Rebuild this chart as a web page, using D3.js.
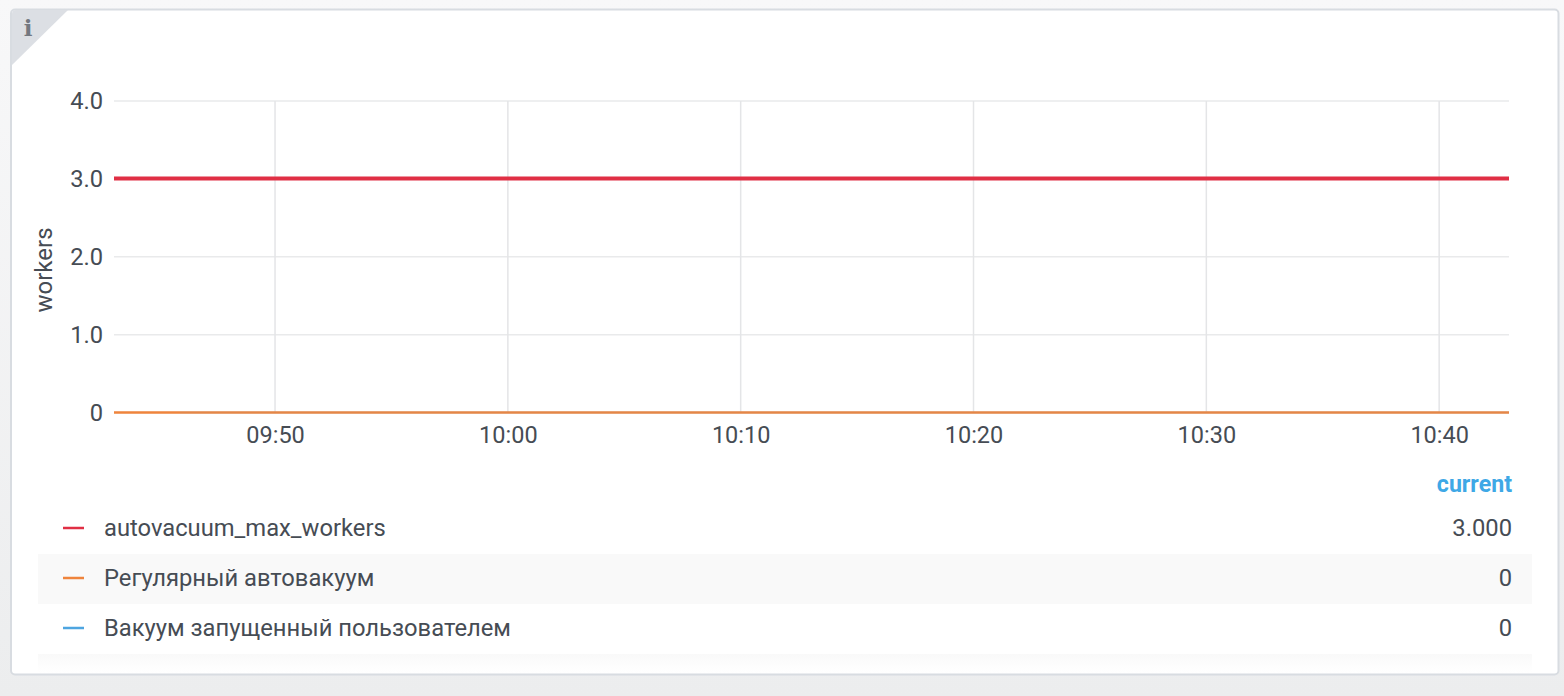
<!DOCTYPE html>
<html><head><meta charset="utf-8">
<script src="https://cdnjs.cloudflare.com/ajax/libs/d3/7.8.5/d3.min.js"></script>
<style>html,body{margin:0;padding:0;background:#f0f1f2;overflow:hidden}svg{display:block}text{font-family:Roboto,sans-serif}</style>
</head><body><svg id="c" width="1564" height="696"></svg>
<script>
const seriesNames=["autovacuum_max_workers","Регулярный автовакуум","Вакуум запущенный пользователем"];
const seriesColors=["#e02f44","#ef843c","#4ea5e0"];
const currentLabels=["3.000","0","0"];
const times=["09:43:05","10:43:00"];
const userTimes=["09:45:55","10:43:00"];
const maxWorkers=[3,3];
const regular=[0,0];
const userVacuum=[0,0];
const yTicks=[0,1,2,3,4];
const xTickTimes=["09:50:00","10:00:00","10:10:00","10:20:00","10:30:00","10:40:00"];
const yLabel="workers";
const valueHeader="current";

const parse=d3.timeParse("%H:%M:%S");
const svg=d3.select("#c");
const defs=svg.append("defs");
const g0=defs.append("linearGradient").attr("id","bg").attr("x1",0).attr("x2",0).attr("y1",0).attr("y2",1);
g0.append("stop").attr("offset","0").attr("stop-color","#f8f8f9");
g0.append("stop").attr("offset","1").attr("stop-color","#ecedee");
const g1=defs.append("linearGradient").attr("id","fade").attr("x1",0).attr("x2",0).attr("y1",0).attr("y2",1);
g1.append("stop").attr("offset","0").attr("stop-color","#f9f9f9");
g1.append("stop").attr("offset","0.6").attr("stop-color","#fdfdfd");
g1.append("stop").attr("offset","1").attr("stop-color","#ffffff");
svg.append("rect").attr("width",1564).attr("height",696).attr("fill","url(#bg)");
svg.append("rect").attr("x",11).attr("y",9.5).attr("width",1547.5).attr("height",665).attr("rx",4)
  .attr("fill","#fff").attr("stroke","#d8dce1").attr("stroke-width",2);
svg.append("path").attr("d","M12 65 L12 14 Q12 10 16 10 L68 10 Z").attr("fill","#dcdfe4");
svg.append("text").attr("x",28).attr("y",36).attr("text-anchor","middle").attr("font-size",23)
  .attr("font-weight",700).style("font-family","'DejaVu Serif',serif").attr("fill","#737880").text("i");

const x=d3.scaleTime().domain(times.map(parse)).range([114,1509]);
const y=d3.scaleLinear().domain([0,4]).range([412.5,101]);
const textCol="#464c54";
const grid=svg.append("g");
grid.selectAll(".h").data(yTicks).join("line").attr("x1",114).attr("x2",1509)
  .attr("y1",d=>y(d)).attr("y2",d=>y(d)).attr("stroke","#e9eaeb").attr("stroke-width",1.5);
grid.selectAll(".v").data(xTickTimes).join("line").attr("x1",d=>x(parse(d))).attr("x2",d=>x(parse(d)))
  .attr("y1",101).attr("y2",412.5).attr("stroke","#e4e5e7").attr("stroke-width",1.5);

const yAxis=d3.axisLeft(y).tickValues(yTicks).tickSize(0).tickPadding(11).tickFormat(d=>d===0?"0":d3.format(".1f")(d));
const ya=svg.append("g").attr("transform","translate(114,0)").call(yAxis);
ya.select(".domain").remove();
ya.selectAll("text").attr("font-size",23.7).attr("fill",textCol).style("font-family","Roboto,sans-serif");
const xAxis=d3.axisBottom(x).tickValues(xTickTimes.map(parse)).tickSize(0).tickPadding(14).tickFormat(d3.timeFormat("%H:%M"));
const xa=svg.append("g").attr("transform","translate(0,412.5)").call(xAxis);
xa.select(".domain").remove();
xa.selectAll("text").attr("font-size",23.5).attr("fill",textCol).style("font-family","Roboto,sans-serif");

svg.append("text").attr("transform","translate(52,270) rotate(-90)").attr("text-anchor","middle")
  .attr("font-size",24).attr("fill",textCol).text(yLabel);

const line=d3.line().x(d=>x(parse(d.t))).y(d=>y(d.v));
const pts=(ts,vs)=>ts.map((t,i)=>({t,v:vs[i]}));
svg.append("path").attr("d",line(pts(times,maxWorkers))).attr("fill","none").attr("stroke",seriesColors[0]).attr("stroke-width",4).attr("transform","translate(0,-0.5)");
svg.append("path").attr("d",line(pts(times,regular))).attr("fill","none").attr("stroke",seriesColors[1]).attr("stroke-width",2.6);
svg.append("path").attr("d",line(pts(userTimes,userVacuum))).attr("fill","none").attr("stroke",seriesColors[2]).attr("stroke-width",2.6).attr("stroke-opacity",0.07);

svg.append("text").attr("x",1512).attr("y",492).attr("text-anchor","end").attr("font-size",23.2)
  .attr("font-weight",700).attr("fill","#3ea8e6").text(valueHeader);
const rowY=[528,578,628];
svg.append("rect").attr("x",38).attr("y",554).attr("width",1494).attr("height",50).attr("fill","#f9f9f9");
svg.append("rect").attr("x",38).attr("y",654).attr("width",1494).attr("height",19).attr("fill","url(#fade)");
const rows=svg.append("g").selectAll("g").data(seriesNames).join("g").attr("transform",(d,i)=>`translate(0,${rowY[i]})`);
rows.append("line").attr("x1",63).attr("x2",84).attr("stroke",(d,i)=>seriesColors[i]).attr("stroke-width",2.5);
rows.append("text").attr("x",104).attr("y",8).attr("font-size",23.76).attr("fill",textCol).text(d=>d);
rows.append("text").attr("x",1512).attr("y",8).attr("text-anchor","end").attr("font-size",23.76).attr("fill",textCol).text((d,i)=>currentLabels[i]);
</script></body></html>
